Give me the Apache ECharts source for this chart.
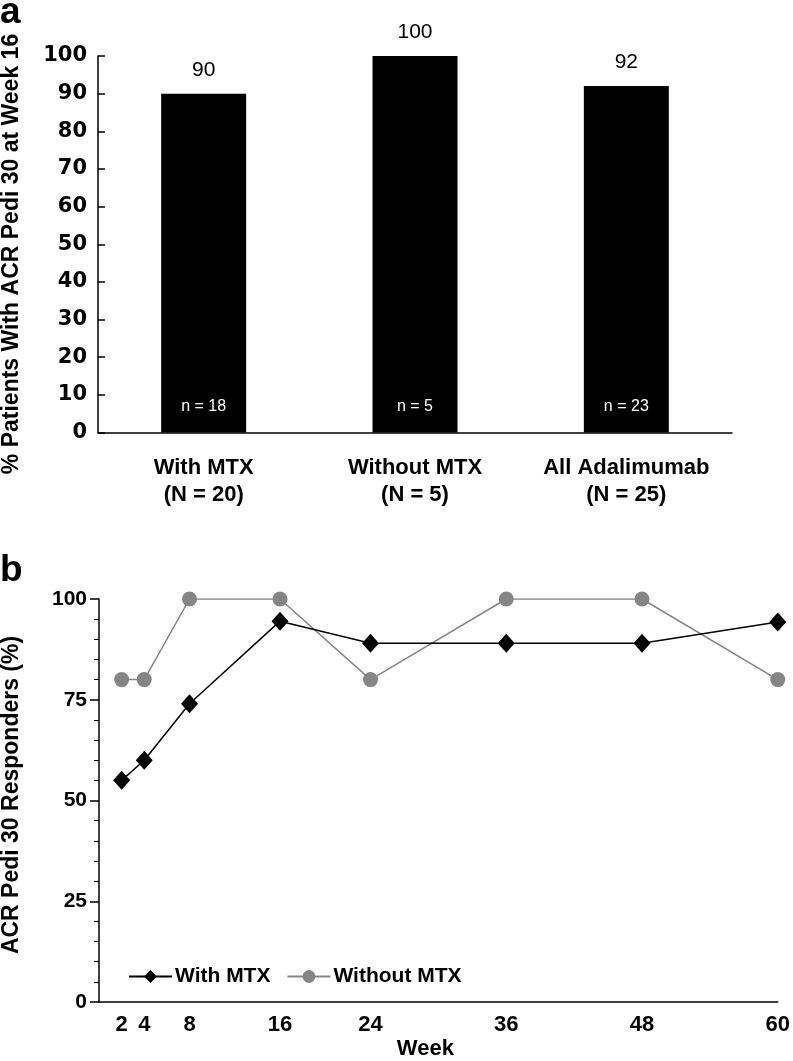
<!DOCTYPE html>
<html>
<head>
<meta charset="utf-8">
<script src="https://cdn.jsdelivr.net/npm/echarts@6/dist/echarts.min.js"></script>
<style>
html,body{margin:0;padding:0;background:#fff;}
#chart{width:793px;height:1061px;}
</style>
</head>
<body>
<div id="chart"></div>
<script>
// ---- Panel a data ----
const groupNames = ['With MTX', 'Without MTX', 'All Adalimumab'];
const groupN = ['(N = 20)', '(N = 5)', '(N = 25)'];
const responderPct = [90, 100, 92];
const responderN = ['n = 18', 'n = 5', 'n = 23'];
const yTicksA = [0, 10, 20, 30, 40, 50, 60, 70, 80, 90, 100];
const titleA = '% Patients With ACR Pedi 30 at Week 16';

// ---- Panel b data ----
const weeks = [2, 4, 8, 16, 24, 36, 48, 60];
const withMTX = [55, 60, 74, 94.5, 89, 89, 89, 94.3];
const withoutMTX = [80, 80, 100, 100, 80, 100, 100, 80];
const yTicksB = [0, 25, 50, 75, 100];
const titleB = 'ACR Pedi 30 Responders (%)';

const FONT = "'Liberation Sans', Arial, sans-serif";

const chart = echarts.init(document.getElementById('chart'), null, {renderer: 'canvas'});

const option = {
  backgroundColor: '#fff',
  animation: false,
  textStyle: {fontFamily: FONT},
  graphic: [
    {type: 'text', left: 0, top: -6, style: {text: 'a', font: 'bold 37px ' + FONT, fill: '#000'}},
    {type: 'text', left: 0, top: 552, style: {text: 'b', font: 'bold 37px ' + FONT, fill: '#000'}},
    {type: 'text', x: 12, y: 254, rotation: Math.PI / 2,
      style: {text: titleA, font: 'bold 23px ' + FONT, fill: '#000', align: 'center', verticalAlign: 'middle'}},
    {type: 'text', x: 12, y: 795, rotation: Math.PI / 2,
      style: {text: titleB, font: 'bold 23px ' + FONT, fill: '#000', align: 'center', verticalAlign: 'middle'}}
  ],
  legend: {
    data: ['With MTX', 'Without MTX'],
    left: 123, top: 961,
    itemWidth: 43, itemHeight: 16, itemGap: 16,
    textStyle: {fontWeight: 'bold', fontSize: 21, color: '#000', padding: [0,0,0,-2]}
  },
  grid: [
    {left: 98, top: 56, width: 634, height: 376.5},
    {left: 99, top: 599, width: 684, height: 405}
  ],
  xAxis: [
    {
      gridIndex: 0, type: 'category', data: groupNames,
      axisLine: {lineStyle: {color: '#000', width: 1.5}},
      axisTick: {inside: true, length: 7, lineStyle: {color: '#000', width: 1.5}},
      axisLabel: {
        interval: 0, hideOverlap: false,
        margin: 22, color: '#000', fontWeight: 'bold', fontSize: 22, lineHeight: 27,
        formatter: (v, i) => v + '\n' + groupN[i]
      }
    },
    {
      gridIndex: 1, type: 'value', min: 0, max: 60,
      axisLine: {lineStyle: {color: '#000', width: 1.5}},
      axisTick: {show: false},
      splitLine: {show: false},
      axisLabel: {
        customValues: weeks, margin: 12, color: '#000', fontWeight: 'bold', fontSize: 22
      },
      name: 'Week', nameLocation: 'middle', nameGap: 36,
      nameTextStyle: {color: '#000', fontWeight: 'bold', fontSize: 22, padding: [0, 26, 0, 0]}
    }
  ],
  yAxis: [
    {
      gridIndex: 0, type: 'value', min: 0, max: 100, interval: 10,
      axisLine: {show: true, lineStyle: {color: '#000', width: 1.5}},
      axisTick: {show: true, inside: true, length: 7, lineStyle: {color: '#000', width: 1.5}},
      splitLine: {show: false},
      axisLabel: {customValues: yTicksA, margin: 11, color: '#000', fontWeight: 'bold', fontSize: 21, fontFamily: "'DejaVu Sans', sans-serif"}
    },
    {
      gridIndex: 1, type: 'value', min: 0, max: 100, interval: 25,
      axisLine: {show: true, lineStyle: {color: '#000', width: 1.5}},
      axisTick: {show: true, length: 9, lineStyle: {color: '#000', width: 1.5}},
      minorTick: {show: true, splitNumber: 5, length: 5, lineStyle: {color: '#000', width: 1}},
      splitLine: {show: false},
      axisLabel: {customValues: yTicksB, margin: 12, color: '#000', fontWeight: 'bold', fontSize: 21}
    }
  ],
  series: [
    {
      type: 'bar', xAxisIndex: 0, yAxisIndex: 0, data: responderPct,
      barWidth: 85, itemStyle: {color: '#000'},
      label: {show: true, position: 'top', distance: 13, color: '#000', fontSize: 21}
    },
    {
      type: 'bar', xAxisIndex: 0, yAxisIndex: 0, data: responderPct,
      barWidth: 85, barGap: '-100%', itemStyle: {color: 'rgba(0,0,0,0)'},
      label: {show: true, position: 'insideBottom', distance: 18, color: '#fff', fontSize: 16,
        formatter: p => responderN[p.dataIndex]},
      silent: true
    },
    {
      name: 'With MTX', type: 'line', xAxisIndex: 1, yAxisIndex: 1,
      data: weeks.map((w, i) => [w, withMTX[i]]),
      symbol: 'diamond', symbolSize: [17, 19], z: 5,
      lineStyle: {color: '#000', width: 1.5}, itemStyle: {color: '#000'}
    },
    {
      name: 'Without MTX', type: 'line', xAxisIndex: 1, yAxisIndex: 1,
      data: weeks.map((w, i) => [w, withoutMTX[i]]),
      symbol: 'circle', symbolSize: 15, z: 4,
      lineStyle: {color: '#858585', width: 1.5}, itemStyle: {color: '#858585'}
    }
  ]
};
chart.setOption(option);
</script>
</body>
</html>
